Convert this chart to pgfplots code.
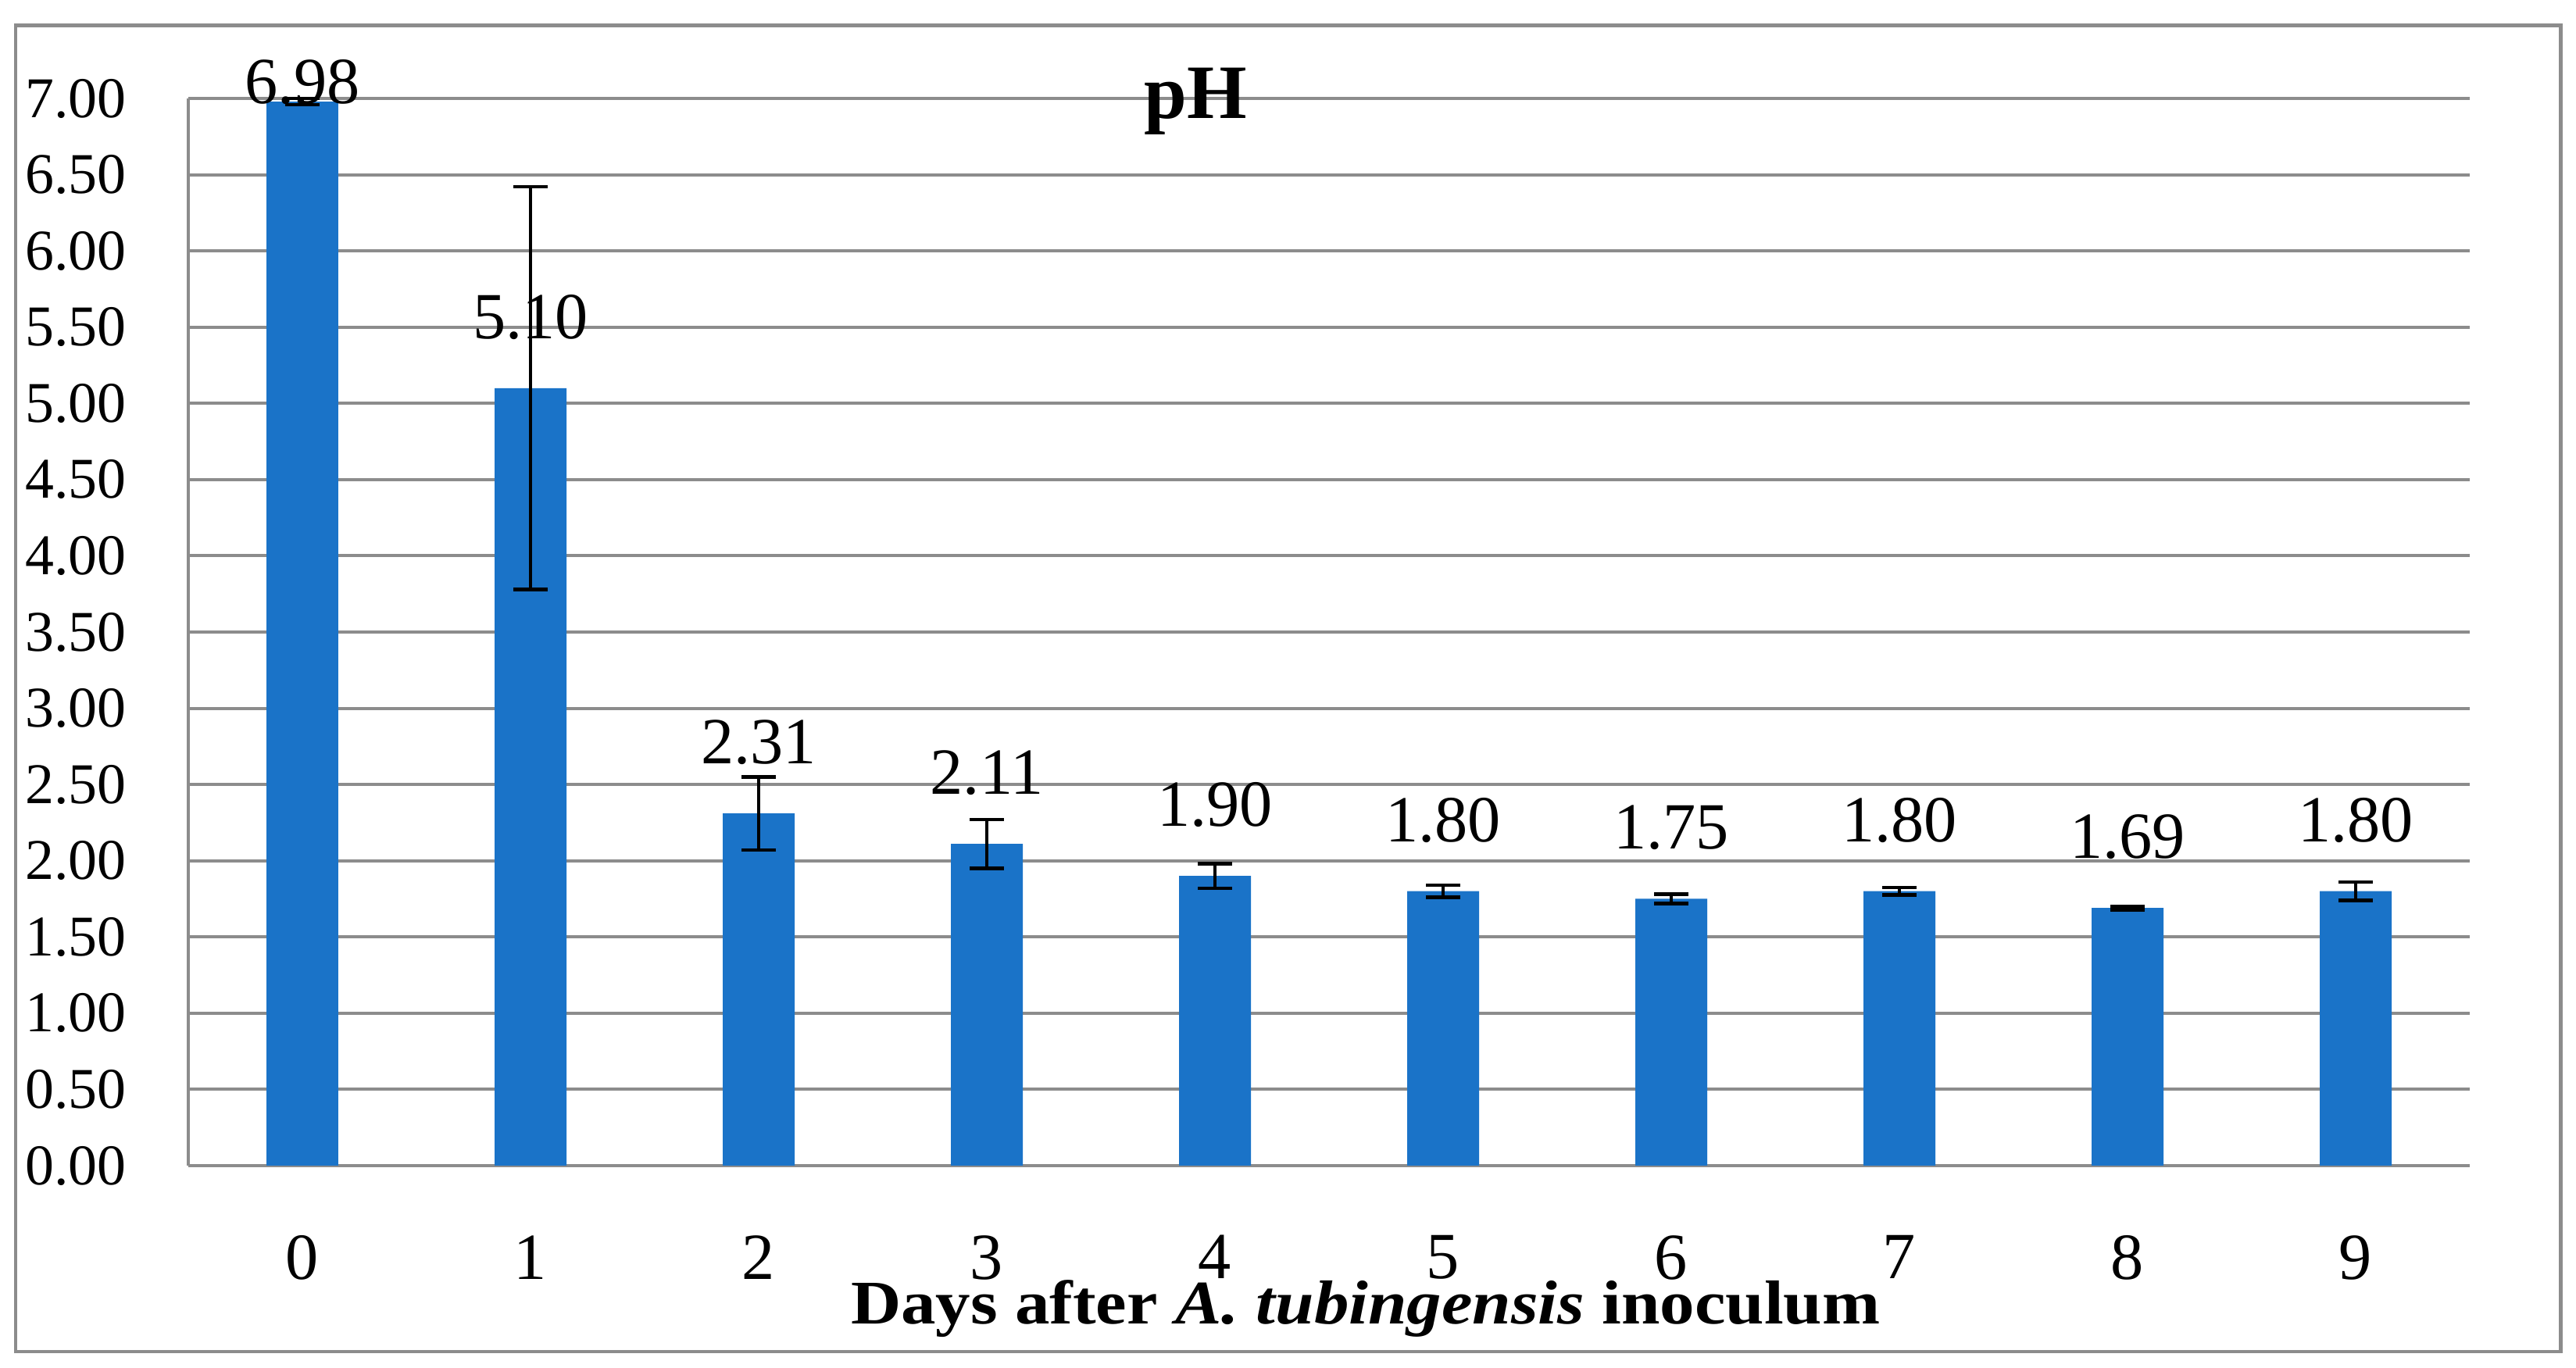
\documentclass[border=0pt]{standalone}
\usepackage{pgfplots}
\pgfplotsset{compat=1.18}
\usepackage{pgfplotstable}
\usepackage{fontspec}
\setmainfont{Liberation Serif}
\newfontfamily\widefont[FakeStretch=1.12]{Liberation Serif}
\definecolor{barblue}{RGB}{26,115,200}
\definecolor{gridgray}{RGB}{140,140,140}
\pgfplotstableread{
x y err
0 6.98 0.02
}\firstbar
\pgfplotstableread{
x y err
1 5.10 1.32
2 2.31 0.24
3 2.11 0.16
4 1.90 0.08
5 1.80 0.04
6 1.75 0.03
7 1.80 0.025
8 1.69 0.012
9 1.80 0.06
}\otherbars
\begin{document}
\begin{tikzpicture}
\path (0,0) rectangle (16.485,8.755);
\draw[gridgray, line width=0.7pt] (0.1,0.105) rectangle (16.385,8.59);
\begin{axis}[
  at={(1.205cm,1.295cm)}, anchor=south west,
  width=14.6cm, height=6.83cm, scale only axis,
  xmin=-0.5, xmax=9.5, ymin=0, ymax=7,
  axis lines=left,
  axis line style={-, draw=gridgray, line width=0.6pt},
  ymajorgrids, grid style={draw=gridgray, line width=0.57pt},
  xtick={0,...,9},
  ytick={0,0.5,...,7},
  major tick length=0pt,
  tick style={draw=none},
  /pgf/number format/assume math mode=true,
  yticklabel style={/pgf/number format/.cd, fixed, fixed zerofill, precision=2, /tikz/.cd,
     anchor=east, inner sep=0pt, xshift=-0.39cm, font=\fontsize{10.5}{12}\selectfont},
  xticklabel style={anchor=north, inner sep=0pt, yshift=-0.44cm, font=\fontsize{12}{14}\selectfont},
  ybar, bar width=0.46cm, bar shift=0pt,
  clip=false,
  nodes near coords,
  nodes near coords style={/pgf/number format/.cd, fixed, fixed zerofill, precision=2, /tikz/.cd,
     anchor=south, inner sep=0pt, font=\fontsize{12}{14}\selectfont, black},
]
\addplot[fill=barblue, draw=none,
  nodes near coords style={yshift=-0.025cm},
  error bars/.cd, y dir=both, y explicit,
  error bar style={line width=0.65pt, black},
  error mark options={rotate=90, line width=0.65pt, mark size=3.1pt, black}]
  table[x=x, y=y, y error=err]{\firstbar};
\addplot[fill=barblue, draw=none,
  nodes near coords style={yshift=0.305cm},
  error bars/.cd, y dir=both, y explicit,
  error bar style={line width=0.65pt, black},
  error mark options={rotate=90, line width=0.65pt, mark size=3.1pt, black}]
  table[x=x, y=y, y error=err]{\otherbars};
\node[anchor=base, font=\bfseries\fontsize{14}{16}\selectfont] at (axis description cs:0.4415,0.9817) {pH};
\node[anchor=base, font=\widefont\bfseries\fontsize{11.3}{13}\selectfont] at (axis description cs:0.516,-0.1486) {Days after \textit{A. tubingensis} inoculum};
\end{axis}
\end{tikzpicture}
\end{document}
